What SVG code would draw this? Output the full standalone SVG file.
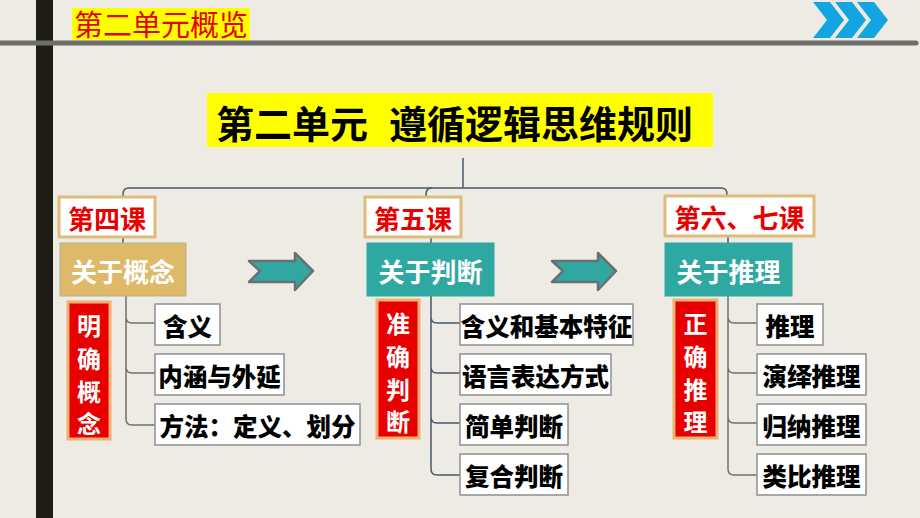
<svg xmlns="http://www.w3.org/2000/svg" width="920" height="518" viewBox="0 0 920 518">
<defs>
<style>
.bg{fill:#EEEBE4}
.cjk{font-family:"Noto Sans CJK SC","Liberation Sans",sans-serif;font-weight:700}
.lesson rect{fill:#FFFFFF;stroke:#DDBB7A;stroke-width:3}
.lesson text{fill:#E80000;font-size:26px}
.topic text{fill:#FFFFFF;font-size:26px}
.gold{fill:#DDB968;stroke:#A9B59E;stroke-width:1}
.teal{fill:#2FA8A2;stroke:#2FA8A2;stroke-width:1}
.tag rect{fill:#E80000;stroke:#F0B070;stroke-width:3}
.tag text{fill:#FFFFFF;font-size:24px;text-anchor:middle;dominant-baseline:central}
.item rect{fill:#FFFFFF;stroke:#8E9090;stroke-width:1.5}
.item text{fill:#000000;font-size:24.5px;font-weight:900}
.conn path{fill:none;stroke-width:1.5}
.main{stroke:#4A5868}
.sub{stroke:#6E7072}
.barrow{fill:#2FA8A2;stroke:#6A6F70;stroke-width:2.5;stroke-linejoin:round}
.chev{fill:#12A5E2}
</style>
</defs>
<rect class="bg" x="0" y="0" width="920" height="518"/>
<rect x="36" y="0" width="17" height="518" fill="#1E1E16"/>
<line x1="0" y1="43" x2="916" y2="43" stroke="#6E6F6A" stroke-width="5" stroke-linecap="round"/>
<g id="header">
<rect x="72" y="8" width="178" height="32" fill="#FFFF00"/>
<text x="161" y="26" text-anchor="middle" dominant-baseline="central" font-family="'Liberation Serif','Noto Sans CJK SC',serif" font-size="29" fill="#E80000">第二单元概览</text>
</g>
<g id="chevrons">
<path class="chev" d="M813,2 L830,2 L844,20 L830,38 L813,38 L827,20 Z"/>
<path class="chev" d="M835,2 L852,2 L866,20 L852,38 L835,38 L849,20 Z"/>
<path class="chev" d="M857,2 L874,2 L888,20 L874,38 L857,38 L871,20 Z"/>
</g>
<g id="title">
<rect x="207" y="93" width="506" height="54" fill="#FFFF00"/>
<text class="cjk" x="216" y="121" dominant-baseline="central" font-size="38" fill="#000">第二单元</text>
<text class="cjk" x="389" y="121" dominant-baseline="central" font-size="38" fill="#000">遵循逻辑思维规则</text>
</g>
<g id="connectors" class="conn">
<path class="main" d="M463,158 V188"/>
<path class="main" d="M123,197 V194 Q123,188 129,188 H721 Q727,188 727,194 V196"/>
<path class="main" d="M432,188 Q426,188 426,194 V197"/>
<path class="main" d="M123,237 V243"/>
<path class="main" d="M431,237 V243"/>
<path class="main" d="M728,236 V243"/>
<path class="sub" d="M126,296 V419 Q126,425 132,425 H155 M126,317 Q126,323 132,323 H155 M126,367 Q126,373 132,373 H155"/>
<path class="main" d="M431,296 V469 Q431,475 437,475 H460 M431,317 Q431,323 437,323 H460 M431,367 Q431,373 437,373 H460 M431,417 Q431,423 437,423 H460"/>
<path class="sub" d="M728,296 V469 Q728,475 734,475 H757 M728,317 Q728,323 734,323 H757 M728,367 Q728,373 734,373 H757 M728,417 Q728,423 734,423 H757"/>
</g>
<g id="arrows">
<path class="barrow" d="M249,261 H295 V253 L313,271 L295,290 V282 H249 L260,271 Z"/>
<path class="barrow" d="M552,261 H598 V253 L616,271 L598,290 V282 H552 L563,271 Z"/>
</g>
<g id="lesson4" class="lesson cjk">
<rect x="59" y="197" width="96" height="40"/>
<text x="107" y="217" text-anchor="middle" dominant-baseline="central">第四课</text>
</g>
<g id="lesson5" class="lesson cjk">
<rect x="365" y="197" width="96" height="40"/>
<text x="413" y="217" text-anchor="middle" dominant-baseline="central">第五课</text>
</g>
<g id="lesson67" class="lesson cjk">
<rect x="665" y="196" width="149" height="40"/>
<text x="739.5" y="216" text-anchor="middle" dominant-baseline="central">第六、七课</text>
</g>
<g id="topic-concept" class="topic cjk">
<rect class="gold" x="60" y="243" width="126" height="53"/>
<text x="123" y="270" text-anchor="middle" dominant-baseline="central">关于概念</text>
</g>
<g id="topic-judgment" class="topic cjk">
<rect class="teal" x="367" y="243" width="127" height="53"/>
<text x="430.5" y="270" text-anchor="middle" dominant-baseline="central">关于判断</text>
</g>
<g id="topic-reasoning" class="topic cjk">
<rect class="teal" x="665" y="243" width="127" height="53"/>
<text x="728.5" y="270" text-anchor="middle" dominant-baseline="central">关于推理</text>
</g>
<g id="tag-concept" class="tag cjk">
<rect x="68" y="302" width="42" height="137"/>
<text x="89" y="324">明</text><text x="89" y="357">确</text><text x="89" y="390">概</text><text x="89" y="422">念</text>
</g>
<g id="tag-judgment" class="tag cjk">
<rect x="377" y="300" width="42" height="138"/>
<text x="398" y="322">准</text><text x="398" y="355">确</text><text x="398" y="388">判</text><text x="398" y="420">断</text>
</g>
<g id="tag-reasoning" class="tag cjk">
<rect x="674" y="300" width="43" height="138"/>
<text x="695.5" y="322">正</text><text x="695.5" y="355">确</text><text x="695.5" y="388">推</text><text x="695.5" y="420">理</text>
</g>
<g id="c1" class="item cjk"><rect x="155" y="304" width="65" height="41"/><text x="187.5" y="325" text-anchor="middle" dominant-baseline="central">含义</text></g>
<g id="c2" class="item cjk"><rect x="155" y="354" width="129" height="41"/><text x="219.5" y="375" text-anchor="middle" dominant-baseline="central">内涵与外延</text></g>
<g id="c3" class="item cjk"><rect x="155" y="404" width="205" height="41"/><text x="257.5" y="425" text-anchor="middle" dominant-baseline="central">方法：定义、划分</text></g>
<g id="j1" class="item cjk"><rect x="460" y="304" width="173" height="41"/><text x="546.5" y="325" text-anchor="middle" dominant-baseline="central">含义和基本特征</text></g>
<g id="j2" class="item cjk"><rect x="460" y="354" width="151" height="41"/><text x="535.5" y="375" text-anchor="middle" dominant-baseline="central">语言表达方式</text></g>
<g id="j3" class="item cjk"><rect x="460" y="404" width="108" height="41"/><text x="514" y="425" text-anchor="middle" dominant-baseline="central">简单判断</text></g>
<g id="j4" class="item cjk"><rect x="460" y="454" width="108" height="41"/><text x="514" y="475" text-anchor="middle" dominant-baseline="central">复合判断</text></g>
<g id="r1" class="item cjk"><rect x="757" y="304" width="66" height="41"/><text x="790" y="325" text-anchor="middle" dominant-baseline="central">推理</text></g>
<g id="r2" class="item cjk"><rect x="757" y="354" width="109" height="41"/><text x="811.5" y="375" text-anchor="middle" dominant-baseline="central">演绎推理</text></g>
<g id="r3" class="item cjk"><rect x="757" y="404" width="109" height="41"/><text x="811.5" y="425" text-anchor="middle" dominant-baseline="central">归纳推理</text></g>
<g id="r4" class="item cjk"><rect x="757" y="454" width="109" height="41"/><text x="811.5" y="475" text-anchor="middle" dominant-baseline="central">类比推理</text></g>
</svg>
